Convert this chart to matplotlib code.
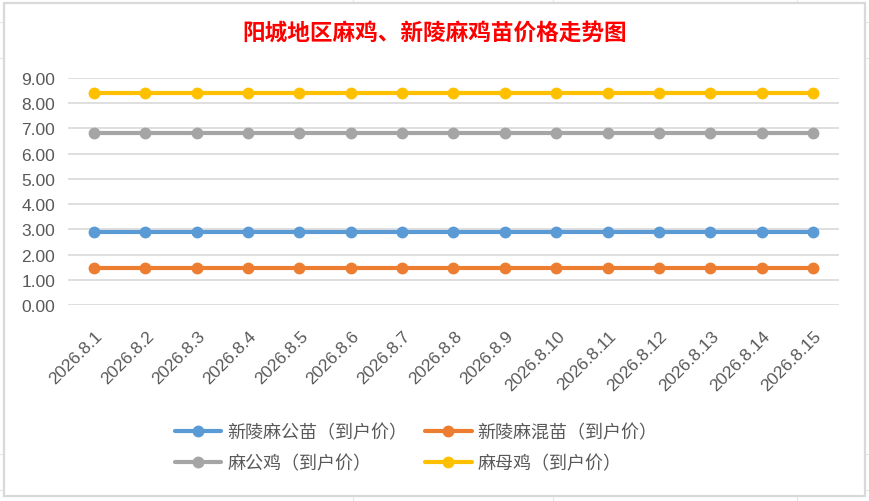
import matplotlib
matplotlib.use("Agg")
import matplotlib.pyplot as plt
from matplotlib.lines import Line2D
from matplotlib.patches import Rectangle
from matplotlib.transforms import ScaledTranslation

plt.rcParams['font.family'] = ['Liberation Sans', 'Noto Sans CJK SC', 'DejaVu Sans']

# data
dates = ["2026.8.%d" % d for d in range(1, 16)]
gongmiao = [2.9] * 15      # 新陵麻公苗
hunmiao = [1.45] * 15      # 新陵麻混苗
gongji = [6.8] * 15        # 麻公鸡
muji = [8.42] * 15         # 麻母鸡

series_names = ["新陵麻公苗（到户价）", "新陵麻混苗（到户价）",
                "麻公鸡（到户价）", "麻母鸡（到户价）"]
series_values = [gongmiao, hunmiao, gongji, muji]
series_colors = ["#5B9BD5", "#ED7D31", "#A5A5A5", "#FFC000"]

yticks = [0, 1, 2, 3, 4, 5, 6, 7, 8, 9]

W, H = 870, 502
fig = plt.figure(figsize=(W / 100, H / 100), dpi=100)
fig.patch.set_facecolor("white")

# faint spreadsheet cells showing behind the chart object
cell = "#E6E6E6"
for y in (23, 59, 455, 491):
    fig.add_artist(Line2D([0, 1], [1 - y / H, 1 - y / H], color=cell, lw=0.8, zorder=0))
for x in (353, 553, 797):
    fig.add_artist(Line2D([x / W, x / W], [0, 1], color=cell, lw=0.8, zorder=0))

# chart frame
fig.add_artist(Rectangle((4 / W, 1 - 497 / H), 861 / W, 493 / H, transform=fig.transFigure,
                         facecolor="white", edgecolor="#D9D9D9", lw=1.6, zorder=0.5))

ax = fig.add_axes([68.3 / W, 1 - 306 / H, 770.4 / W, 227 / H])
ax.set_facecolor("none")
ax.set_zorder(2)

x = list(range(len(dates)))
handles = []
for name, vals, col in zip(series_names, series_values, series_colors):
    h, = ax.plot(x, vals, color=col, lw=3.0, marker="o", markersize=7.5,
                 solid_capstyle="round", label=name, zorder=3)
    handles.append(h)

ax.set_xlim(-0.5, len(dates) - 0.5)
ax.set_ylim(0, 9)
ax.set_yticks(yticks)
ax.set_yticklabels(["%.2f" % v for v in yticks])
ax.set_xticks(x)
ax.set_xticklabels(dates, rotation=45, ha="right", va="center", rotation_mode="anchor")

ax.grid(axis="y", color="#D9D9D9", lw=1.2, zorder=0)
ax.set_axisbelow(True)
for s in ax.spines.values():
    s.set_visible(False)
ax.tick_params(axis="both", length=0, colors="#595959", labelsize=12.5)
ax.tick_params(axis="y", pad=9.5)
ax.tick_params(axis="x", pad=20)

# excel puts the end of each slanted label a little right of the tick
shift = ScaledTranslation(0.06, 0, fig.dpi_scale_trans)
for lbl in ax.get_xticklabels():
    lbl.set_transform(lbl.get_transform() + shift)

fig.text(0.5, 1 - 33 / H, "阳城地区麻鸡、新陵麻鸡苗价格走势图", ha="center", va="center",
         fontsize=16.3, color="#FF0000", fontweight="bold", family=["Noto Sans CJK SC"])

# legend fills column-wise, so reorder to get row-wise layout
order = [0, 2, 1, 3]
leg = fig.legend(handles=[handles[i] for i in order], ncol=2, loc="center",
                 bbox_to_anchor=(416 / W, 1 - 448.5 / H),
                 frameon=False, handlelength=2.6, handletextpad=0.33, columnspacing=0.95,
                 labelspacing=0.7, labelcolor="#595959",
                 prop={"family": ["Noto Sans CJK SC"], "size": 13})
leg.set_zorder(3)

fig.savefig("out.png", dpi=100)
